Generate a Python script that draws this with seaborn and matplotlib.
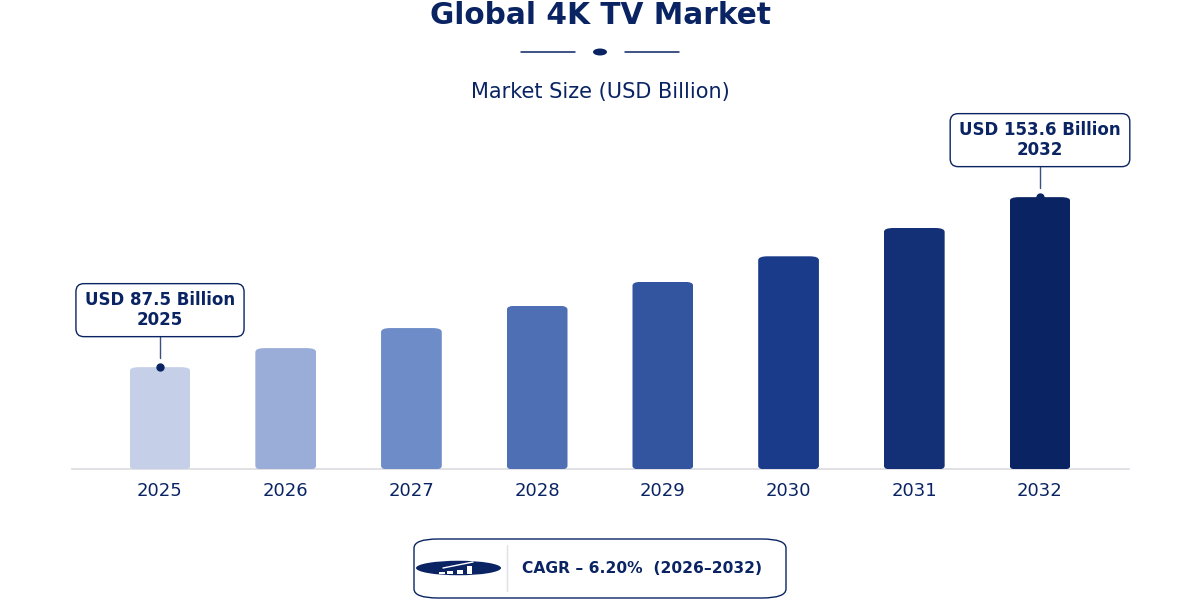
import matplotlib
matplotlib.use("Agg")
import matplotlib.pyplot as plt
import seaborn as sns
import pandas as pd
from matplotlib.patches import FancyBboxPatch, Ellipse, Rectangle

years = ["2025", "2026", "2027", "2028", "2029", "2030", "2031", "2032"]
market_size = [87.5, 94.9, 102.7, 111.4, 120.7, 130.6, 141.6, 153.6]
bar_colors = ["#C5D0E8", "#9AADD8", "#6E8CC8", "#4F6FB5", "#3355A0", "#1A3A8A", "#133076", "#0A2463"]
callout_years = ["2025", "2032"]
title = "Global 4K TV Market"
subtitle = "Market Size (USD Billion)"
cagr_label = "CAGR – 6.20%  (2026–2032)"

NAVY = "#0A2463"
W, H = 1200, 600
sns.set_theme(style="white")
plt.rcParams["font.family"] = "DejaVu Sans"

fig = plt.figure(figsize=(12, 6), dpi=100, facecolor="white")
ax_left, ax_right, ax_top, ax_bottom = 72, 1129, 100, 469
ax = fig.add_axes([ax_left / W, 1 - ax_bottom / H, (ax_right - ax_left) / W, (ax_bottom - ax_top) / H])
df = pd.DataFrame({"year": years, "size": market_size})
sns.barplot(data=df, x="year", y="size", hue="year", palette=bar_colors, legend=False,
            width=0.483, saturation=1, ax=ax)
PX_PER_UNIT = 2.572
y0 = 47.9
ax.set_ylim(y0, y0 + (ax_bottom - ax_top) / PX_PER_UNIT)
ax.set_xlim(-0.70, 7.708)
ax.set_xlabel("")
ax.set_ylabel("")
ax.set_yticks([])
ax.tick_params(axis="x", length=0, pad=9, labelsize=13, labelcolor=NAVY)
for s in ["top", "left", "right"]:
    ax.spines[s].set_visible(False)
ax.spines["bottom"].set_color("#DDDDE3")
ax.spines["bottom"].set_linewidth(1.3)
ax.spines["bottom"].set_zorder(0.5)

# rounded corners on the bars (wide, shallow, as in the reference)
foot = y0 - 0.3
for bar in ax.patches:
    bar.set_linewidth(0)
    top = bar.get_y() + bar.get_height()
    clip = FancyBboxPatch((bar.get_x(), foot), bar.get_width(), top - foot,
                          boxstyle="round,pad=0,rounding_size=0.075", mutation_aspect=20,
                          transform=ax.transData, facecolor="none", edgecolor="none")
    bar.set_y(foot)
    bar.set_height(top - foot)
    bar.set_clip_on(True)
    bar.set_clip_path(clip)

# overlay in pixel coordinates for the header, footer and callout boxes
ov = fig.add_axes([0, 0, 1, 1], zorder=10)
ov.set_xlim(0, W)
ov.set_ylim(H, 0)
ov.axis("off")
ov.patch.set_alpha(0)

# callouts
for yr in callout_years:
    i = years.index(yr)
    v = market_size[i]
    ax.plot([i], [v], "o", ms=5, color=NAVY, clip_on=False, zorder=5)
    ax.plot([i, i], [v + 9 / PX_PER_UNIT, v + 30 / PX_PER_UNIT], color=NAVY, lw=1, alpha=0.8, zorder=4)
    px, py = ax.transData.transform((i, v))
    cx, cy = px, H - py - 57
    t = ov.text(cx, cy, f"USD {v} Billion\n{yr}", ha="center", va="center", fontsize=12,
                fontweight="bold", color=NAVY, linespacing=1.12, zorder=3)
    ext = t.get_window_extent(fig.canvas.get_renderer())
    bw = ext.width + 18
    ov.add_patch(FancyBboxPatch((cx - bw / 2, cy - 26.5), bw, 53,
                                boxstyle="round,pad=0,rounding_size=8", fc="white", ec=NAVY, lw=1, zorder=2))

ov.text(600, 15, title, ha="center", va="center", fontsize=21.3, fontweight="bold", color=NAVY)
ov.text(600, 92, subtitle, ha="center", va="center", fontsize=15, color=NAVY)
ov.plot([521, 575], [52, 52], color=NAVY, lw=1.1)
ov.plot([625, 679], [52, 52], color=NAVY, lw=1.1)
ov.add_patch(Ellipse((600, 52), 14, 7, fc=NAVY, ec="none"))

ov.add_patch(FancyBboxPatch((414, 539), 372, 59, boxstyle="round,pad=0,rounding_size=24",
                            mutation_aspect=0.38, fc="white", ec=NAVY, lw=1))
ov.plot([507, 507], [545, 591], color="#E0E0E6", lw=1)
ov.add_patch(Ellipse((458.5, 568), 85, 14.5, fc=NAVY, ec="none"))
for x, top, w in [(439, 572, 6), (447, 571, 6), (457, 570, 6), (467, 566, 5)]:
    ov.add_patch(Rectangle((x, top), w, 574 - top, fc="white", ec="none"))
ov.plot([443, 473], [568, 562], color="white", lw=1)
ov.text(522, 568.5, cagr_label, ha="left", va="center", fontsize=11.2, fontweight="bold", color=NAVY)

fig.savefig("out.png", dpi=100, facecolor="white")
